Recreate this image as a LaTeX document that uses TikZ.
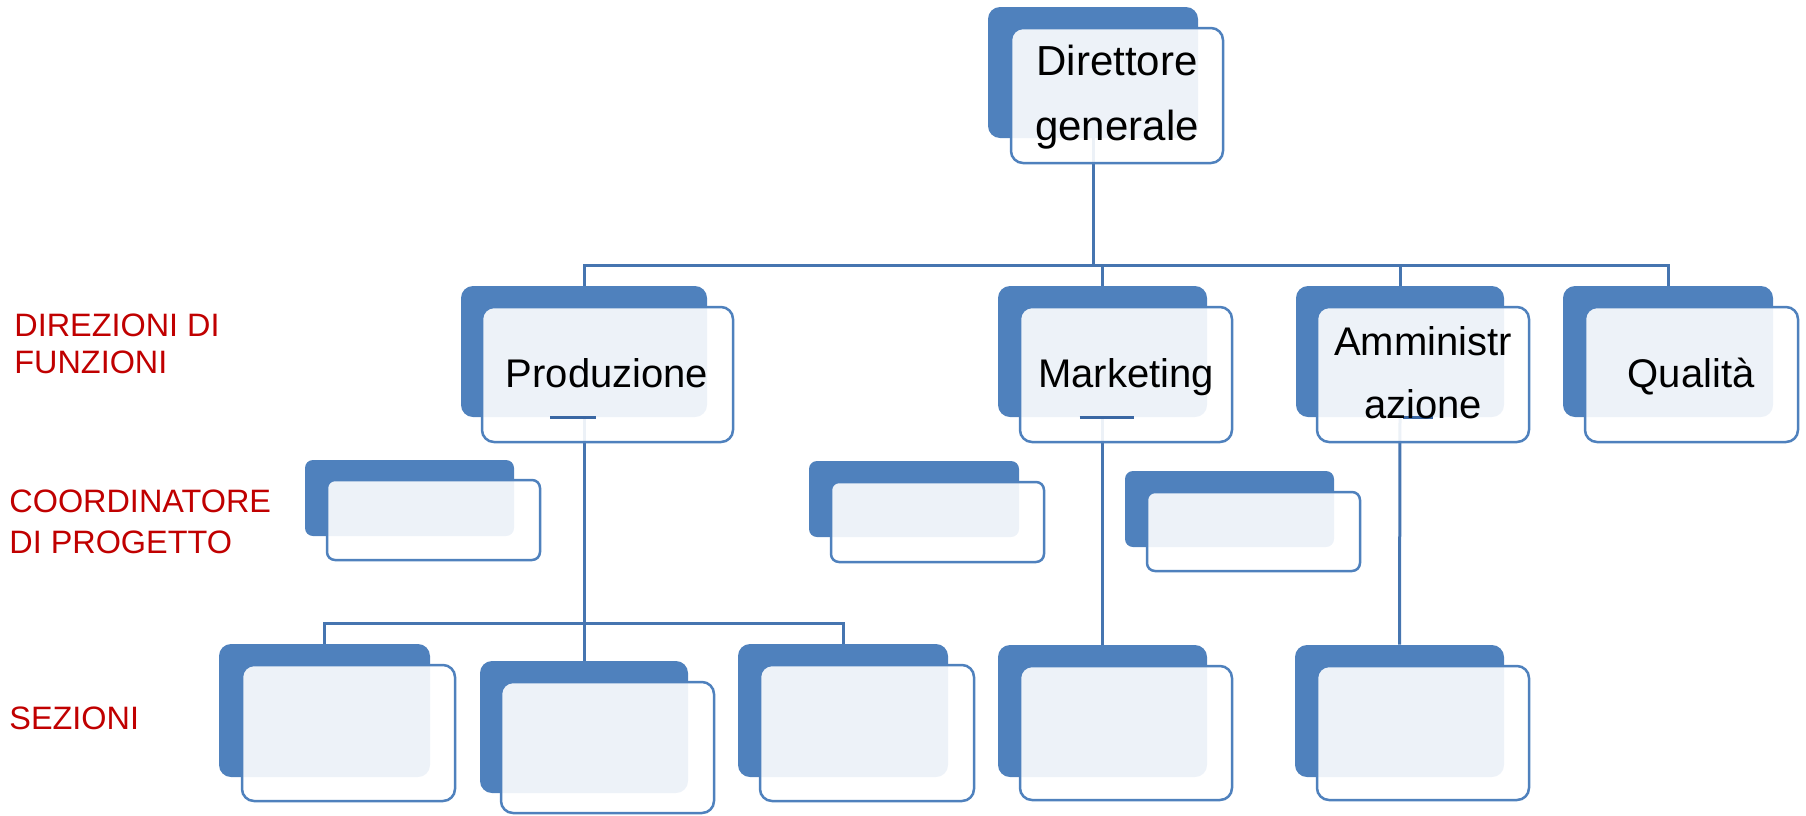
\documentclass[tikz,border=0pt]{standalone}
\usepackage{fontspec}
\setmainfont{Liberation Sans}
\usetikzlibrary{fit}
\definecolor{darkblue}{HTML}{4F81BD}
\definecolor{connblue}{HTML}{4675B0}
\definecolor{dashblue}{HTML}{3A67A3}
\definecolor{labred}{HTML}{C00000}
\tikzset{
  darkbox/.style={fill=darkblue, draw=none, inner sep=0pt, rounded corners=6pt},
  frontbox/.style={fill=white, fill opacity=0.9, draw=darkblue, line width=1.25pt, inner sep=0pt, rounded corners=6pt},
  smalldark/.style={darkbox, rounded corners=4pt},
  smallfront/.style={frontbox, rounded corners=4pt},
  conn/.style={draw=connblue, line width=1.5pt},
  stub/.style={draw=dashblue, line width=1.1pt},
  boxtext/.style={inner sep=0pt, anchor=base, align=center, text=black},
  lab/.style={inner sep=0pt, anchor=base west, align=left, text=labred},
}
\begin{document}
\begin{tikzpicture}[x=0.5pt, y=-0.5pt]
\useasboundingbox (0,0) rectangle (1806,815);
% bus coordinates
\coordinate (bus1) at (0,265);
\coordinate (bus2) at (0,623);
% dark back boxes
\node[darkbox, fit={(988,7)(1198,138)}] (dgb) {};
\node[darkbox, fit={(461,286)(707,417)}] (prodb) {};
\node[darkbox, fit={(998,286)(1207,417)}] (markb) {};
\node[darkbox, fit={(1296,286)(1504,417)}] (ammb) {};
\node[darkbox, fit={(1563,286)(1773,417)}] (qualb) {};
\node[smalldark, fit={(305,460)(514,536)}] (cab) {};
\node[smalldark, fit={(809,461)(1019,537)}] (cbb) {};
\node[smalldark, fit={(1125,471)(1334,547)}] (ccb) {};
\node[darkbox, fit={(219,644)(430,777)}] (s1b) {};
\node[darkbox, fit={(480,661)(688,793)}] (s2b) {};
\node[darkbox, fit={(738,644)(948,777)}] (s3b) {};
\node[darkbox, fit={(998,645)(1207,777)}] (s4b) {};
\node[darkbox, fit={(1295,645)(1504,777)}] (s5b) {};
% connectors
\draw[conn] (dgb.south) -- (dgb.south |- bus1);
\draw[conn] (prodb.north) -- (prodb.north |- bus1) -- (qualb.north |- bus1) -- (qualb.north);
\draw[conn] (markb.north) -- (markb.north |- bus1);
\draw[conn] (ammb.north) -- (ammb.north |- bus1);
\draw[conn] (prodb.south) -- (s2b.north);
\draw[conn] (s1b.north) -- (s1b.north |- bus2) -- (s3b.north |- bus2) -- (s3b.north);
\draw[conn] (markb.south) -- (s4b.north);
\draw[conn] (ammb.south) -- (s5b.north);
% front boxes
\node[frontbox, fit={(1011,28)(1223,163)}] (dg) {};
\node[frontbox, fit={(482,307)(733,442)}] (prod) {};
\node[frontbox, fit={(1020,307)(1232,442)}] (mark) {};
\node[frontbox, fit={(1317,307)(1529,442)}] (amm) {};
\node[frontbox, fit={(1585,307)(1798,442)}] (qual) {};
\node[smallfront, fit={(327,480)(540,560)}] (ca) {};
\node[smallfront, fit={(831,482)(1044,562)}] (cb) {};
\node[smallfront, fit={(1147,492)(1360,571)}] (cc) {};
\node[frontbox, fit={(242,665)(455,801)}] (s1) {};
\node[frontbox, fit={(501,682)(714,813)}] (s2) {};
\node[frontbox, fit={(760,665)(974,801)}] (s3) {};
\node[frontbox, fit={(1020,666)(1232,800)}] (s4) {};
\node[frontbox, fit={(1317,666)(1529,800)}] (s5) {};
% short stubs
\draw[stub] ([xshift=-17pt]prodb.south) -- ([xshift=6pt]prodb.south);
\draw[stub] ([xshift=-11.5pt]markb.south) -- ([xshift=15.5pt]markb.south);
\draw[stub] ([xshift=1.5pt]ammb.south) -- ([xshift=16.5pt]ammb.south);
% texts (anchor base = baseline of the last line)
\node[boxtext, font={\fontsize{21}{32.5}\selectfont}] (tdg) at (1117,140) {Direttore\\generale};
\node[boxtext, font={\fontsize{20}{32}\selectfont}] (tprod) at (607,387) {Produzione};
\node[boxtext, font={\fontsize{20}{32}\selectfont}] (tmark) at (1126,387) {Marketing};
\node[boxtext, font={\fontsize{20}{31.5}\selectfont}] (tamm) at (1423,418) {Amministr\\azione};
\node[boxtext, font={\fontsize{20}{32}\selectfont}] (tqual) at (1691,387) {Qualità};
% side labels
\node[lab, font={\fontsize{16.2}{18.3}\selectfont}] (l1) at (14,373) {DIREZIONI DI\\FUNZIONI};
\node[lab, font={\fontsize{16.2}{20.3}\selectfont}] (l2) at (9,553) {COORDINATORE\\DI PROGETTO};
\node[lab, font={\fontsize{16.2}{18.3}\selectfont}] (l3) at (9,729) {SEZIONI};
\end{tikzpicture}
\end{document}
